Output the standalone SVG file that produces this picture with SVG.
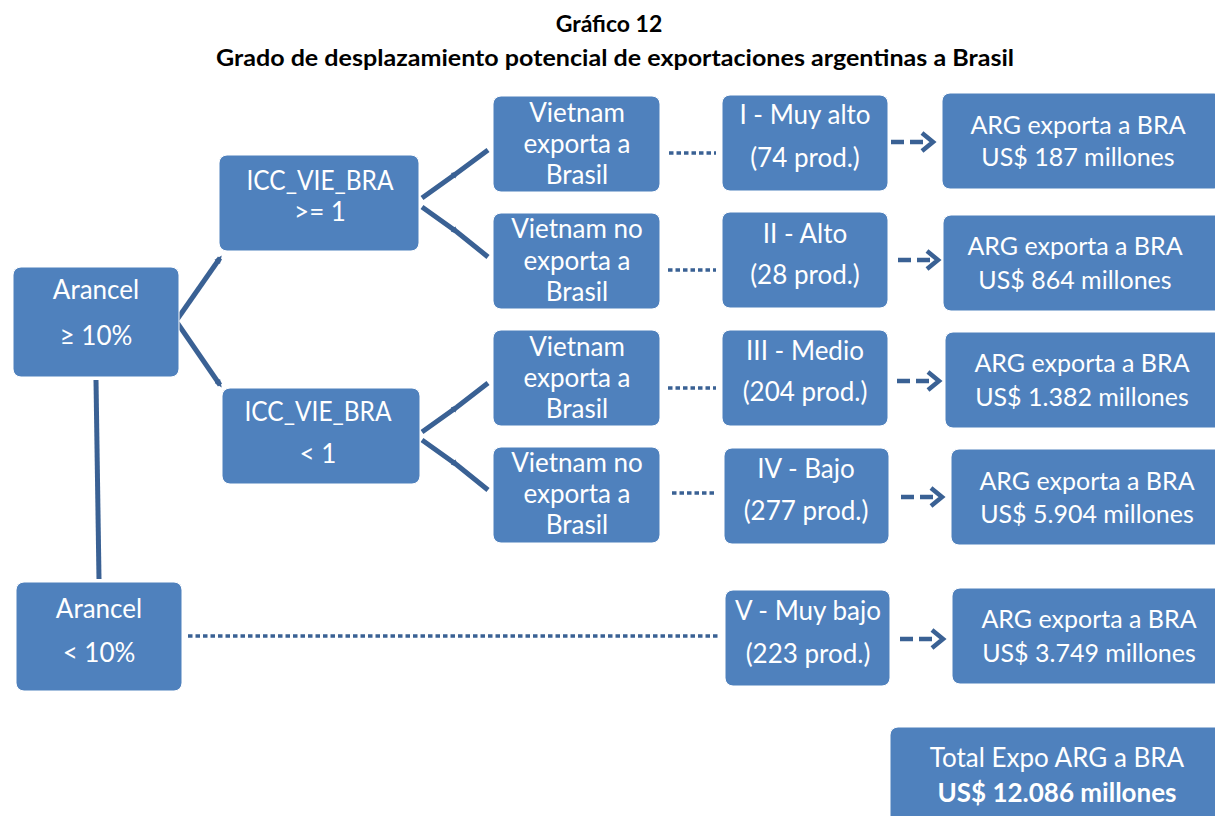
<svg xmlns="http://www.w3.org/2000/svg" width="1215" height="816" viewBox="0 0 1215 816">
<style>
.box{fill:#4F81BD;stroke:#ffffff;stroke-width:1}
.t{font-family:Lato,"Open Sans","Liberation Sans",sans-serif;fill:#ffffff;font-size:26px;text-anchor:middle}
.r{font-size:25px}
.b{font-weight:bold}
.title{font-family:Lato,"Open Sans","Liberation Sans",sans-serif;font-weight:bold;font-size:23px;fill:#000;text-anchor:middle}
.ln{stroke:#3A6194;stroke-width:5;fill:none}
.dot{stroke:#3A6194;stroke-width:3.5;stroke-dasharray:4.5 3;fill:none}
.dash{stroke:#3A6194;stroke-width:4.5;stroke-dasharray:13 6;fill:none}
.chev{stroke:#3A6194;stroke-width:4.5;fill:none;stroke-linejoin:miter}
</style>
<defs>
<marker id="tip" markerUnits="userSpaceOnUse" markerWidth="10" markerHeight="10" refX="5" refY="5" orient="auto">
<path d="M0,1.5 L8,5 L0,8.5 Z" fill="#3A6194"/>
</marker>
</defs>
<rect width="1215" height="816" fill="#ffffff"/>
<text class="title" x="609" y="32">Gráfico 12</text>
<text class="title" x="615" y="66" textLength="798" lengthAdjust="spacingAndGlyphs">Grado de desplazamiento potencial de exportaciones argentinas a Brasil</text>

<g id="connectors">
<line class="ln" x1="176" y1="321" x2="220" y2="258" marker-end="url(#tip)"/>
<line class="ln" x1="176" y1="321" x2="220" y2="385" marker-end="url(#tip)"/>
<line class="ln" x1="96" y1="380" x2="99" y2="579"/>
<polyline class="ln" points="422,198 457,173 488,150" marker-mid="url(#tip)"/>
<polyline class="ln" points="422,207 457,232 488,257" marker-mid="url(#tip)"/>
<polyline class="ln" points="422,432 457,407 488,383" marker-mid="url(#tip)"/>
<polyline class="ln" points="422,440 457,465 488,490" marker-mid="url(#tip)"/>
<line class="dot" x1="669" y1="153" x2="716" y2="153"/>
<line class="dot" x1="668" y1="270" x2="716" y2="270"/>
<line class="dot" x1="668" y1="388" x2="716" y2="388"/>
<line class="dot" x1="672" y1="493" x2="716" y2="493"/>
<line class="dot" x1="188" y1="636" x2="720" y2="636"/>
<line class="dash" x1="891" y1="142" x2="925" y2="142"/>
<polyline class="chev" points="922,133 933,142 922,151"/>
<line class="dash" x1="898" y1="260" x2="930" y2="260"/>
<polyline class="chev" points="927,251 938,260 927,269"/>
<line class="dash" x1="897" y1="381" x2="931" y2="381"/>
<polyline class="chev" points="928,372 939,381 928,390"/>
<line class="dash" x1="901" y1="497" x2="934" y2="497"/>
<polyline class="chev" points="931,488 942,497 931,506"/>
<line class="dash" x1="900" y1="639" x2="935" y2="639"/>
<polyline class="chev" points="932,630 943,639 932,648"/>
</g>

<g id="arancel-alto"><rect class="box" x="13" y="267" width="166" height="110" rx="8"/>
<text class="t" x="96" y="299">Arancel</text><text class="t" x="96" y="345">≥ 10%</text></g>
<g id="arancel-bajo"><rect class="box" x="16" y="582" width="166" height="109" rx="8"/>
<text class="t" x="99" y="618">Arancel</text><text class="t" x="99" y="662">&lt; 10%</text></g>

<g id="icc-1"><rect class="box" x="219" y="155" width="200" height="96" rx="8"/>
<text class="t" x="320" y="190" textLength="147" lengthAdjust="spacingAndGlyphs">ICC_VIE_BRA</text><text class="t" x="320" y="221">&gt;= 1</text></g>
<g id="icc-2"><rect class="box" x="222" y="388" width="198" height="96" rx="8"/>
<text class="t" x="318" y="421" textLength="147" lengthAdjust="spacingAndGlyphs">ICC_VIE_BRA</text><text class="t" x="318" y="463">&lt; 1</text></g>

<g id="vn-1"><rect class="box" x="493" y="96" width="167" height="96" rx="8"/>
<text class="t" x="577" y="122">Vietnam</text><text class="t" x="577" y="153">exporta a</text><text class="t" x="577" y="184">Brasil</text></g>
<g id="vn-2"><rect class="box" x="493" y="213" width="167" height="96" rx="8"/>
<text class="t" x="577" y="238">Vietnam no</text><text class="t" x="577" y="270">exporta a</text><text class="t" x="577" y="301">Brasil</text></g>
<g id="vn-3"><rect class="box" x="493" y="330" width="167" height="96" rx="8"/>
<text class="t" x="577" y="356">Vietnam</text><text class="t" x="577" y="387">exporta a</text><text class="t" x="577" y="418">Brasil</text></g>
<g id="vn-4"><rect class="box" x="493" y="447" width="167" height="96" rx="8"/>
<text class="t" x="577" y="472">Vietnam no</text><text class="t" x="577" y="503">exporta a</text><text class="t" x="577" y="534">Brasil</text></g>

<g id="cat-1"><rect class="box" x="722" y="95" width="166" height="96" rx="8"/>
<text class="t" x="805" y="124">I - Muy alto</text><text class="t" x="805" y="167">(74 prod.)</text></g>
<g id="cat-2"><rect class="box" x="722" y="212" width="166" height="96" rx="8"/>
<text class="t" x="805" y="243">II - Alto</text><text class="t" x="805" y="284">(28 prod.)</text></g>
<g id="cat-3"><rect class="box" x="722" y="330" width="166" height="96" rx="8"/>
<text class="t" x="805" y="360">III - Medio</text><text class="t" x="805" y="401">(204 prod.)</text></g>
<g id="cat-4"><rect class="box" x="724" y="448" width="165" height="96" rx="8"/>
<text class="t" x="806" y="478">IV - Bajo</text><text class="t" x="806" y="520">(277 prod.)</text></g>
<g id="cat-5"><rect class="box" x="725" y="590" width="165" height="96" rx="8"/>
<text class="t" x="808" y="620">V - Muy bajo</text><text class="t" x="808" y="663">(223 prod.)</text></g>

<g id="res-1"><rect class="box" x="942" y="93" width="280" height="96" rx="8"/>
<text class="t r" x="1078" y="134">ARG exporta a BRA</text><text class="t r" x="1078" y="166">US$ 187 millones</text></g>
<g id="res-2"><rect class="box" x="943" y="215" width="280" height="96" rx="8"/>
<text class="t r" x="1075" y="255">ARG exporta a BRA</text><text class="t r" x="1075" y="289">US$ 864 millones</text></g>
<g id="res-3"><rect class="box" x="945" y="332" width="280" height="96" rx="8"/>
<text class="t r" x="1082" y="372">ARG exporta a BRA</text><text class="t r" x="1082" y="406">US$ 1.382 millones</text></g>
<g id="res-4"><rect class="box" x="951" y="449" width="280" height="96" rx="8"/>
<text class="t r" x="1087" y="490">ARG exporta a BRA</text><text class="t r" x="1087" y="523">US$ 5.904 millones</text></g>
<g id="res-5"><rect class="box" x="952" y="588" width="280" height="96" rx="8"/>
<text class="t r" x="1089" y="628">ARG exporta a BRA</text><text class="t r" x="1089" y="662">US$ 3.749 millones</text></g>

<g id="total"><rect class="box" x="890" y="727" width="340" height="110" rx="8"/>
<text class="t" x="1057" y="767">Total Expo ARG a BRA</text><text class="t b" x="1057" y="802">US$ 12.086 millones</text></g>
</svg>
